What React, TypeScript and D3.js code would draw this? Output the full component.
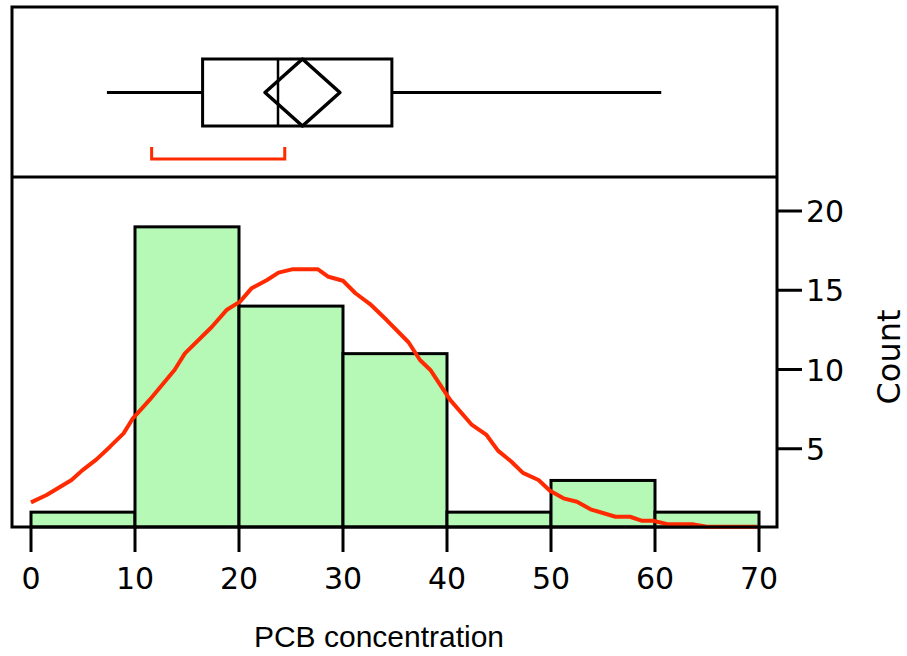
import React from "react";
import * as d3 from "d3";

const binEdges = [0, 10, 20, 30, 40, 50, 60, 70];
const counts = [1, 19, 14, 11, 1, 3, 1];
const xTicks = [0, 10, 20, 30, 40, 50, 60, 70];
const yTicks = [5, 10, 15, 20];

// smooth density curve (concentration, count scale)
const curveX = [0, 1.5, 3.9, 4.9, 6.3, 7.6, 8.9, 9.8, 11.4, 13.8, 14.8, 17.4, 18.8, 20.1, 21.2, 22.7, 23.8, 25.1, 27.6, 28.6, 30.0, 31.2, 32.6, 34.2, 36.3, 37.4, 38.4, 40.3, 42.4, 43.8, 44.9, 46.2, 47.3, 48.8, 49.9, 51.2, 52.5, 53.8, 56.2, 57.6, 58.7, 59.8, 61.3, 63.7, 65.0, 69.8];
const curveY = [1.62, 2.08, 3.03, 3.62, 4.33, 5.13, 5.97, 6.92, 8.08, 9.97, 11.02, 12.7, 13.75, 14.28, 15.12, 15.65, 16.11, 16.32, 16.32, 15.85, 15.6, 14.81, 14.13, 13.12, 11.72, 10.6, 9.97, 8.08, 6.5, 5.87, 4.88, 4.18, 3.48, 3.03, 2.35, 1.87, 1.66, 1.18, 0.71, 0.71, 0.46, 0.46, 0.23, 0.23, 0.08, 0.08];

// box plot summary
const whiskerLow = 7.3;
const quartile1 = 16.5;
const median = 23.75;
const quartile3 = 34.7;
const whiskerHigh = 60.6;
const mean = 26.1;
const meanCI = [22.5, 29.7];
const shortestHalf = [11.6, 24.4];

export default function App() {
  const W = 907, H = 656;
  const left = 12, right = 777, top = 7, divider = 177, bottom = 527;
  const x = d3.scaleLinear().domain([0, 70]).range([31, 759]);
  const y = d3.scaleLinear().domain([0, 20]).range([528, 211]);

  const line = d3
    .line<number>()
    .x((_, i) => x(curveX[i]))
    .y((d) => y(d));

  const boxTop = 59, boxBot = 126, boxMid = 92.5;
  const bracketY = 159, bracketTop = 147;
  const red = "#ff2a00";
  const tickFont = "'DejaVu Sans', Verdana, sans-serif";

  return (
    <svg width={W} height={H} style={{ position: "absolute", left: 0, top: 0, background: "#fff" }}>
      {/* histogram bars */}
      {counts.map((c, i) => (
        <rect
          key={i}
          x={x(binEdges[i])}
          y={y(c)}
          width={x(binEdges[i + 1]) - x(binEdges[i])}
          height={bottom - y(c)}
          fill="#b6f9b6"
          stroke="#000"
          strokeWidth={3}
        />
      ))}
      {/* density curve */}
      <path d={line(curveY) || ""} fill="none" stroke={red} strokeWidth={4} strokeLinejoin="round" />

      {/* frame */}
      <rect x={left} y={top} width={right - left} height={bottom - top} fill="none" stroke="#000" strokeWidth={3} />
      <line x1={left} x2={right} y1={divider} y2={divider} stroke="#000" strokeWidth={3} />

      {/* box plot */}
      <line x1={x(whiskerLow)} x2={x(quartile1)} y1={boxMid} y2={boxMid} stroke="#000" strokeWidth={3} />
      <line x1={x(quartile3)} x2={x(whiskerHigh)} y1={boxMid} y2={boxMid} stroke="#000" strokeWidth={3} />
      <rect x={x(quartile1)} y={boxTop} width={x(quartile3) - x(quartile1)} height={boxBot - boxTop} fill="none" stroke="#000" strokeWidth={3} />
      <line x1={x(median)} x2={x(median)} y1={boxTop} y2={boxBot} stroke="#000" strokeWidth={2.5} />
      <path
        d={`M${x(meanCI[0])},${boxMid} L${x(mean)},${boxTop} L${x(meanCI[1])},${boxMid} L${x(mean)},${boxBot} Z`}
        fill="none"
        stroke="#000"
        strokeWidth={3.5}
        strokeLinejoin="round"
      />
      {/* shortest half bracket */}
      <path
        d={`M${x(shortestHalf[0])},${bracketTop} L${x(shortestHalf[0])},${bracketY} L${x(shortestHalf[1])},${bracketY} L${x(shortestHalf[1])},${bracketTop}`}
        fill="none"
        stroke={red}
        strokeWidth={3}
      />

      {/* x axis */}
      {xTicks.map((t) => (
        <g key={t}>
          <line x1={x(t)} x2={x(t)} y1={bottom} y2={552} stroke="#000" strokeWidth={3} />
          <text x={x(t)} y={589} textAnchor="middle" fontFamily={tickFont} fontSize={30} fill="#000">
            {t}
          </text>
        </g>
      ))}
      <text x={379} y={647} textAnchor="middle" fontFamily="'Liberation Sans', Arial, sans-serif" fontSize={30} fill="#000">
        PCB concentration
      </text>

      {/* y axis (right) */}
      {yTicks.map((t) => (
        <g key={t}>
          <line x1={right} x2={802} y1={y(t)} y2={y(t)} stroke="#000" strokeWidth={3} />
          <text x={806} y={y(t) + 11} textAnchor="start" fontFamily={tickFont} fontSize={30} fill="#000">
            {t}
          </text>
        </g>
      ))}
      <text
        transform={`translate(900,357) rotate(-90)`}
        textAnchor="middle"
        fontFamily={tickFont}
        fontSize={32}
        fill="#000"
      >
        Count
      </text>
    </svg>
  );
}
